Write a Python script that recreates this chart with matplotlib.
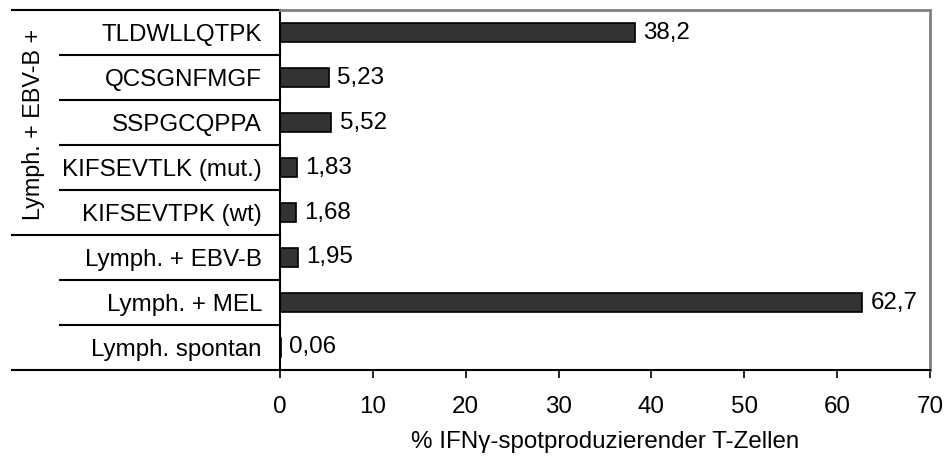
import matplotlib
matplotlib.use("Agg")
import matplotlib.pyplot as plt

plt.rcParams['font.family'] = ['Liberation Sans', 'DejaVu Sans']

# bottom to top
labels = ['Lymph. spontan', 'Lymph. + MEL', 'Lymph. + EBV-B',
          'KIFSEVTPK (wt)', 'KIFSEVTLK (mut.)', 'SSPGCQPPA',
          'QCSGNFMGF', 'TLDWLLQTPK']
values = [0.06, 62.7, 1.95, 1.68, 1.83, 5.52, 5.23, 38.2]
group_label = 'Lymph. + EBV-B +'
xlabel = '% IFNγ-spotproduzierender T-Zellen'
xticks = [0, 10, 20, 30, 40, 50, 60, 70]

fs = 17.4
fig = plt.figure(figsize=(9.47, 4.61), dpi=100)
ax = fig.add_axes([280 / 947, 1 - 370 / 461, 650 / 947, 360 / 461])

y = range(len(values))
ax.barh(y, values, height=0.42, color='#333333', edgecolor='black', linewidth=1.2)
for yi, v in zip(y, values):
    ax.annotate(f'{v:g}'.replace('.', ','), (v, yi), xytext=(6, 0),
                textcoords='offset points', va='center', ha='left', fontsize=fs)

ax.set_xlim(0, 70)
ax.set_ylim(-0.5, len(values) - 0.5)
ax.set_xticks(xticks)
ax.set_xticklabels([str(t) for t in xticks], fontsize=fs)
ax.set_yticks(list(y))
ax.set_yticklabels(labels, fontsize=fs)
ax.tick_params(axis='y', length=0, pad=13)
ax.tick_params(axis='x', direction='out', length=6, width=1.2, pad=13)
ax.set_xlabel(xlabel, fontsize=fs, labelpad=9)

for s in ['top', 'right']:
    ax.spines[s].set_color('#808080')
    ax.spines[s].set_linewidth(2)
for s in ['bottom', 'left']:
    ax.spines[s].set_linewidth(1.5)

# separator lines between categories on the left
tr = ax.get_yaxis_transform()
outer_x = (12 - 280) / 650
inner_x = (60 - 280) / 650
n = len(values)
for b in range(n + 1):
    yb = b - 0.5
    x0 = outer_x if b in (0, 3, n) else inner_x
    ax.plot([x0, 0], [yb, yb], transform=tr, color='black', lw=1.5, clip_on=False)

ax.text((33 - 280) / 650, 4.95, group_label, transform=tr, rotation=90,
        ha='center', va='center', fontsize=16.8)

fig.savefig('out.png', dpi=100)
